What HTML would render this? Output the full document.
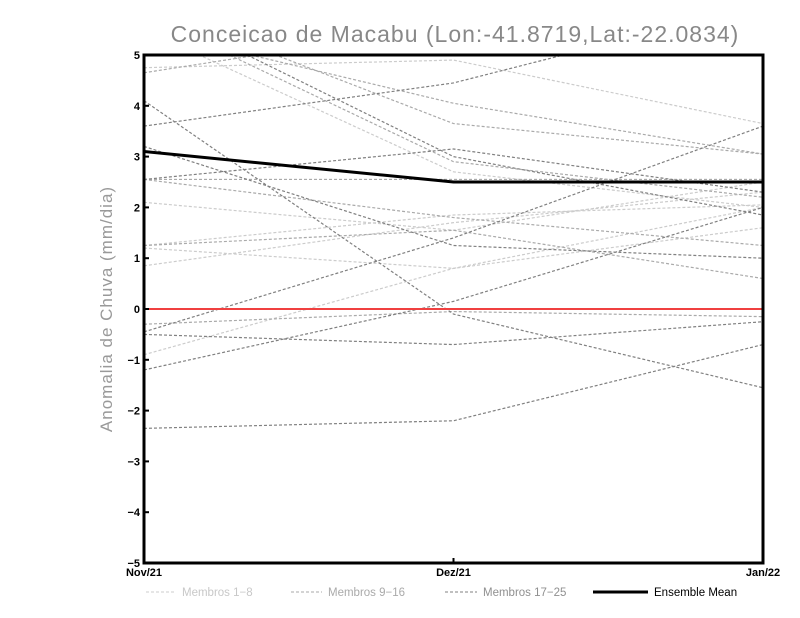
<!DOCTYPE html>
<html><head><meta charset="utf-8"><style>
html,body{margin:0;padding:0;background:#fff;width:800px;height:618px;overflow:hidden}
svg{display:block;font-family:"Liberation Sans",sans-serif}
</style></head><body>
<svg id="chart" width="800" height="618">
<defs><clipPath id="clip"><rect x="144" y="55" width="619" height="508"/></clipPath></defs>
<text x="455" y="42" text-anchor="middle" font-size="23" fill="#888" letter-spacing="1">Conceicao de Macabu (Lon:-41.8719,Lat:-22.0834)</text>
<text transform="translate(112,309) rotate(-90)" text-anchor="middle" font-size="17" fill="#999" letter-spacing="1">Anomalia de Chuva (mm/dia)</text>
<g id="members" clip-path="url(#clip)"></g>
<g id="axes"></g>
<g id="legend"></g>
</svg>
<script>
const categories = ["Nov/21","Dez/21","Jan/22"];
const yTicks = [-5,-4,-3,-2,-1,0,1,2,3,4,5];
const light = [[4.75,4.9,3.65],[2.1,1.55,2.5],[1.25,1.85,2.05],[0.85,1.7,2.3],[-0.9,0.8,1.6],[5.5,2.7,2.0],[1.2,0.8,2.0],[2.55,2.55,2.55]];
const medium = [[4.65,5.6,5.8],[6.0,3.65,3.05],[2.55,2.55,2.55],[-0.3,-0.05,-0.15],[5.5,4.05,3.05],[1.25,1.55,0.6],[2.55,1.8,1.25],[5.8,2.9,2.2]];
const dark = [[3.6,4.45,6.0],[4.1,-0.1,-1.55],[2.55,3.15,2.3],[3.2,1.25,1.0],[6.0,3.0,1.85],[-0.45,1.4,3.6],[-0.5,-0.7,-0.25],[-2.35,-2.2,-0.7],[-1.2,0.15,2.0]];
const ensemble = [3.1,2.5,2.5];

const NS="http://www.w3.org/2000/svg";
const X0=144,X1=763,Y0=563,Y1=55;
function xs(i){return X0+(X1-X0)*i/(categories.length-1);}
function ys(v){return Y0-(v+5)/10*(Y0-Y1);}
function mk(tag,attrs,parent){const e=document.createElementNS(NS,tag);for(const k in attrs)e.setAttribute(k,attrs[k]);parent.appendChild(e);return e;}
function pts(arr){return arr.map((v,i)=>xs(i)+","+ys(v)).join(" ");}
const mg=document.getElementById("members");
function drawGroup(data,color,name){
  data.forEach((s,j)=>{
    const p=mk("polyline",{points:pts(s),fill:"none",stroke:color,"stroke-width":1.2,"stroke-dasharray":"3,2"},mg);
    
    
  });
}
drawGroup(light,"#cccccc","member-light");
drawGroup(medium,"#aaaaaa","member-medium");
drawGroup(dark,"#808080","member-dark");
const zl=mk("line",{x1:X0,x2:X1,y1:ys(0),y2:ys(0),stroke:"#f04040","stroke-width":2},mg);


const em=mk("polyline",{points:pts(ensemble),fill:"none",stroke:"#000","stroke-width":3},mg);



const ax=document.getElementById("axes");
const fr=mk("rect",{x:X0,y:Y1,width:X1-X0,height:Y0-Y1,fill:"none",stroke:"#000","stroke-width":3},ax);


yTicks.forEach(v=>{
  mk("line",{x1:X0,x2:X0+5,y1:ys(v),y2:ys(v),stroke:"#000","stroke-width":2},ax);
  const t=mk("text",{x:X0-4,y:ys(v)+4,"text-anchor":"end","font-size":11,"font-weight":"bold"},ax);
  t.textContent=v<0?"\u2212"+(-v):String(v);
  
  
});
categories.forEach((c,i)=>{
  mk("line",{x1:xs(i),x2:xs(i),y1:Y0,y2:Y0-5,stroke:"#000","stroke-width":2},ax);
  const t=mk("text",{x:xs(i),y:Y0+13,"text-anchor":"middle","font-size":11,"font-weight":"bold"},ax);
  t.textContent=c;
  
  
});

const lg=document.getElementById("legend");
const legendItems=[["Membros 1\u22128","#cccccc","#c8c8c8",146,30,"3,2",1],["Membros 9\u221216","#aaaaaa","#aaaaaa",291,31,"3,2",1],["Membros 17\u221225","#808080","#909090",445,32,"3,2",1],["Ensemble Mean","#000","#000",593,55,"",3]];
legendItems.forEach(it=>{
  const g=mk("g",{},lg);
  
  
  const a={x1:it[3],x2:it[3]+it[4],y1:592,y2:592,stroke:it[1],"stroke-width":it[6]};
  if(it[5])a["stroke-dasharray"]=it[5];
  mk("line",a,g);
  const t=mk("text",{x:it[3]+it[4]+6,y:596,"font-size":11.5,fill:it[2]},g);
  t.textContent=it[0];
});
</script>
</body></html>
